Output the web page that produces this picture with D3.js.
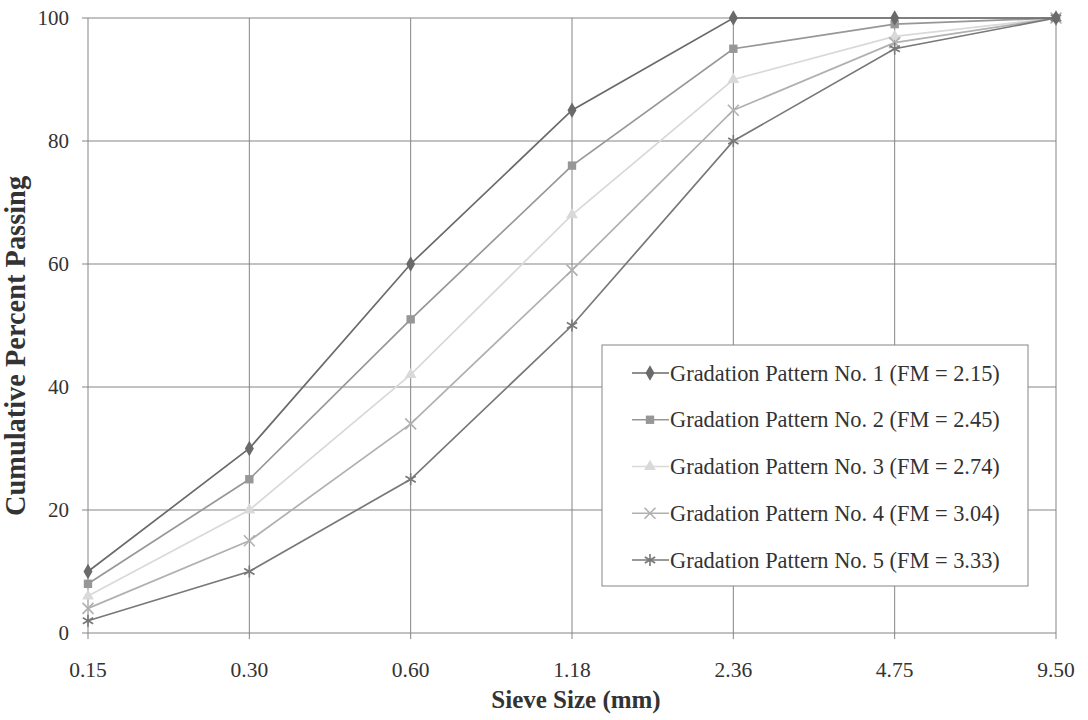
<!DOCTYPE html>
<html>
<head>
<meta charset="utf-8">
<script src="https://cdn.jsdelivr.net/npm/d3@7/dist/d3.min.js"></script>
<style>
  body { margin: 0; background: #fff; }
  text { font-family: "Liberation Serif", "Times New Roman", serif; fill: #333; }
</style>
</head>
<body>
<div id="chart"></div>
<script>
const sieves = ['0.15', '0.30', '0.60', '1.18', '2.36', '4.75', '9.50'];
const yTicks = [0, 20, 40, 60, 80, 100];
const names = [
  'Gradation Pattern No. 1 (FM = 2.15)',
  'Gradation Pattern No. 2 (FM = 2.45)',
  'Gradation Pattern No. 3 (FM = 2.74)',
  'Gradation Pattern No. 4 (FM = 3.04)',
  'Gradation Pattern No. 5 (FM = 3.33)'
];
const pattern1 = [10, 30, 60, 85, 100, 100, 100];
const pattern2 = [8, 25, 51, 76, 95, 99, 100];
const pattern3 = [6, 20, 42, 68, 90, 97, 100];
const pattern4 = [4, 15, 34, 59, 85, 96, 100];
const pattern5 = [2, 10, 25, 50, 80, 95, 100];

const W = 1088, H = 720;
const padL = 88, padR = 1056, padT = 18, padB = 633;

const series = [
  { name: names[0], vals: pattern1, color: '#6a6a6a', sym: 'diamond' },
  { name: names[1], vals: pattern2, color: '#979797', sym: 'square' },
  { name: names[2], vals: pattern3, color: '#d9d9d9', sym: 'triangle' },
  { name: names[3], vals: pattern4, color: '#b0b0b0', sym: 'x' },
  { name: names[4], vals: pattern5, color: '#787878', sym: 'star' }
];

const svg = d3.select('#chart').append('svg')
    .attr('width', W)
    .attr('height', H);

const x = d3.scalePoint().domain(sieves).range([padL, padR]);
const y = d3.scaleLinear().domain([0, 100]).range([padB, padT]);

// gridlines
svg.append('g').selectAll('line')
    .data(yTicks)
    .enter().append('line')
    .attr('x1', padL - 6).attr('x2', padR)
    .attr('y1', d => y(d)).attr('y2', d => y(d))
    .attr('stroke', '#858585').attr('stroke-width', 1);

svg.append('g').selectAll('line')
    .data(sieves)
    .enter().append('line')
    .attr('x1', d => x(d)).attr('x2', d => x(d))
    .attr('y1', padT).attr('y2', padB + 6)
    .attr('stroke', '#858585').attr('stroke-width', 1);

// tick labels
svg.append('g').selectAll('text')
    .data(yTicks)
    .enter().append('text')
    .attr('x', padL - 19)
    .attr('y', d => y(d) + 7)
    .attr('text-anchor', 'end')
    .attr('font-size', 21)
    .text(d => d);

svg.append('g').selectAll('text')
    .data(sieves)
    .enter().append('text')
    .attr('x', d => x(d))
    .attr('y', padB + 44)
    .attr('text-anchor', 'middle')
    .attr('font-size', 21.5)
    .text(d => d);

// axis titles
svg.append('text')
    .attr('x', 576)
    .attr('y', 708)
    .attr('text-anchor', 'middle')
    .attr('font-size', 25)
    .attr('font-weight', 'bold')
    .text('Sieve Size (mm)');

svg.append('text')
    .attr('transform', 'translate(25, 346) rotate(-90)')
    .attr('text-anchor', 'middle')
    .attr('font-size', 28.4)
    .attr('font-weight', 'bold')
    .text('Cumulative Percent Passing');

const symbols = {
  diamond: d3.symbol().type(d3.symbolDiamond).size(70),
  square: d3.symbol().type(d3.symbolSquare).size(70),
  triangle: d3.symbol().type(d3.symbolTriangle).size(60),
  x: d3.symbol().type(d3.symbolX).size(80),
  star: d3.symbol().type(d3.symbolAsterisk).size(100)
};
const strokeSym = s => s === 'x' || s === 'star';

const line = d3.line()
    .x((d, i) => x(sieves[i]))
    .y(d => y(d));

// lines drawn light first so darker ones sit on top
const order = [2, 3, 1, 4, 0];
order.forEach(k => {
  const s = series[k];
  const g = svg.append('g');
  g.append('path')
      .datum(s.vals)
      .attr('d', line)
      .attr('fill', 'none')
      .attr('stroke', s.color)
      .attr('stroke-width', 1.7);
  g.selectAll('path.m')
      .data(s.vals)
      .enter().append('path')
      .attr('class', 'm')
      .attr('d', symbols[s.sym])
      .attr('transform', (d, i) => `translate(${x(sieves[i])},${y(d)})`)
      .attr('fill', strokeSym(s.sym) ? 'none' : s.color)
      .attr('stroke', s.color)
      .attr('stroke-width', strokeSym(s.sym) ? 1.6 : 0);
});

// legend
const lx = 602, ly = 345, lw = 426, lh = 241;
const legend = svg.append('g');
legend.append('rect')
    .attr('x', lx).attr('y', ly)
    .attr('width', lw).attr('height', lh)
    .attr('fill', '#fff')
    .attr('stroke', '#858585')
    .attr('stroke-width', 1);

const rowY = d3.scalePoint().domain(d3.range(5)).range([373, 560]);
series.forEach((s, i) => {
  const yy = rowY(i);
  legend.append('line')
      .attr('x1', 632).attr('x2', 669)
      .attr('y1', yy).attr('y2', yy)
      .attr('stroke', s.color).attr('stroke-width', 1.7);
  legend.append('path')
      .attr('d', symbols[s.sym])
      .attr('transform', `translate(650,${yy})`)
      .attr('fill', strokeSym(s.sym) ? 'none' : s.color)
      .attr('stroke', s.color)
      .attr('stroke-width', strokeSym(s.sym) ? 1.6 : 0);
  legend.append('text')
      .attr('x', 670)
      .attr('y', yy + 7.5)
      .attr('font-size', 22.4)
      .text(s.name);
});
</script>
</body>
</html>
